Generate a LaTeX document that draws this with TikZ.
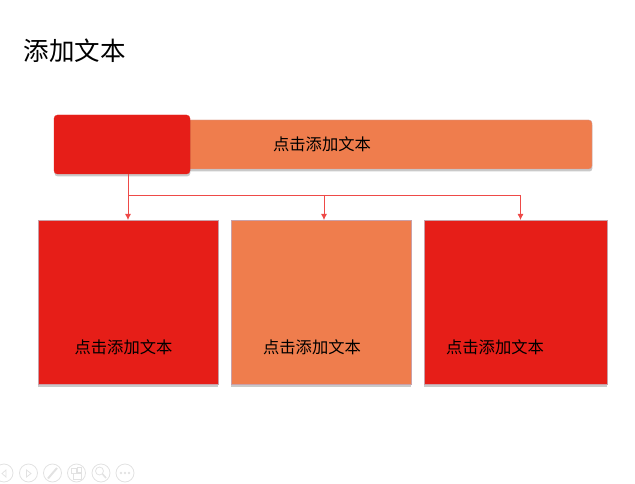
\documentclass[tikz,border=0pt]{standalone}
\usepackage{fontspec}
\setmainfont{Noto Sans CJK SC}
\usetikzlibrary{shadows,arrows.meta}
\definecolor{boxred}{HTML}{E61E18}
\definecolor{boxorange}{HTML}{EF7D4D}
\definecolor{boxedge}{HTML}{C9A0A8}
\definecolor{linkred}{HTML}{EE4A48}
\definecolor{navgray}{HTML}{E2E2E2}
\tikzset{
  panel/.style={draw=boxedge,line width=0.3pt,inner sep=0pt,drop shadow={shadow xshift=0.4pt,shadow yshift=-2.5pt,opacity=0.3,fill=black!70}},
  label/.style={inner sep=0pt,font=\fontsize{16.3}{18}\selectfont,text=black},
  link/.style={draw=linkred,line width=0.8pt},
  arrowlink/.style={link,-{Latex[length=6pt,width=6pt]}},
  nav/.style={draw=navgray,line width=0.8pt,circle,minimum size=18pt,inner sep=0pt},
  navmark/.style={draw=navgray,line width=0.8pt}
}
\begin{document}
\begin{tikzpicture}[x=1pt,y=-1pt]
\useasboundingbox (0,0) rectangle (635,484);
% header bar
\node[panel,fill=boxorange,rounded corners=3pt,minimum width=442pt,minimum height=49pt] (bar) at (371,144.5) {};
\node[panel,fill=boxred,draw=boxred,rounded corners=3.5pt,minimum width=136pt,minimum height=59pt] (head) at (122,144.5) {};
% lower boxes
\node[panel,fill=boxred,minimum width=180pt,minimum height=164pt] (left) at (128,302) {};
\node[panel,fill=boxorange,minimum width=180pt,minimum height=164pt] (middle) at (321,302) {};
\node[panel,fill=boxred,minimum width=183pt,minimum height=164pt] (right) at (515.5,302) {};
% texts
\node[inner sep=0pt,font=\fontsize{25.5}{28}\selectfont,text=black] (title) at (74.5,51) {添加文本};
\node[label] (bartext) at (322,144) {点击添加文本};
\node[label] (lefttext) at (123.5,347) {点击添加文本};
\node[label] (middletext) at (312,347) {点击添加文本};
\node[label] (righttext) at (495,347) {点击添加文本};
% connectors
\coordinate (start) at (128,174);
\coordinate (fork) at (128,195);
\coordinate (midfork) at (324,195);
\coordinate (rightfork) at (520.5,195);
\coordinate (leftend) at (128,220);
\coordinate (midend) at (324,220);
\coordinate (rightend) at (520.5,220);
\path[arrowlink] (start) -- (leftend);
\path[link] (fork) -- (rightfork);
\path[arrowlink] (midfork) -- (midend);
\path[arrowlink] (rightfork) -- (rightend);
% slide controls
\node[nav] (back) at (4,473) {};
\node[nav] (forward) at (28.5,473) {};
\node[nav] (pen) at (52.5,473) {};
\node[nav] (pages) at (76.5,473) {};
\node[nav] (zoom) at (101,473) {};
\node[nav] (more) at (125,473) {};
\path[navmark] (6,470) -- (2,473.5) -- (6,477) -- cycle;
\path[navmark] (26.5,470) -- (31,473.5) -- (26.5,477) -- cycle;
\path[navmark,line width=2pt] (48,478.5) -- (57,468);
\path[navmark] (71.5,468.5) rectangle (76,473) (77,467.5) rectangle (81,472) (73,473) rectangle (81.5,479);
\node[navmark,circle,minimum size=8pt,inner sep=0pt] (lens) at (99.5,471) {};
\path[navmark,line width=1.6pt] (lens.south east) -- (106,478);
\foreach \dotx in {121,125,129}
  \fill[navgray] (\dotx,473) circle (1.3pt);
\end{tikzpicture}
\end{document}
